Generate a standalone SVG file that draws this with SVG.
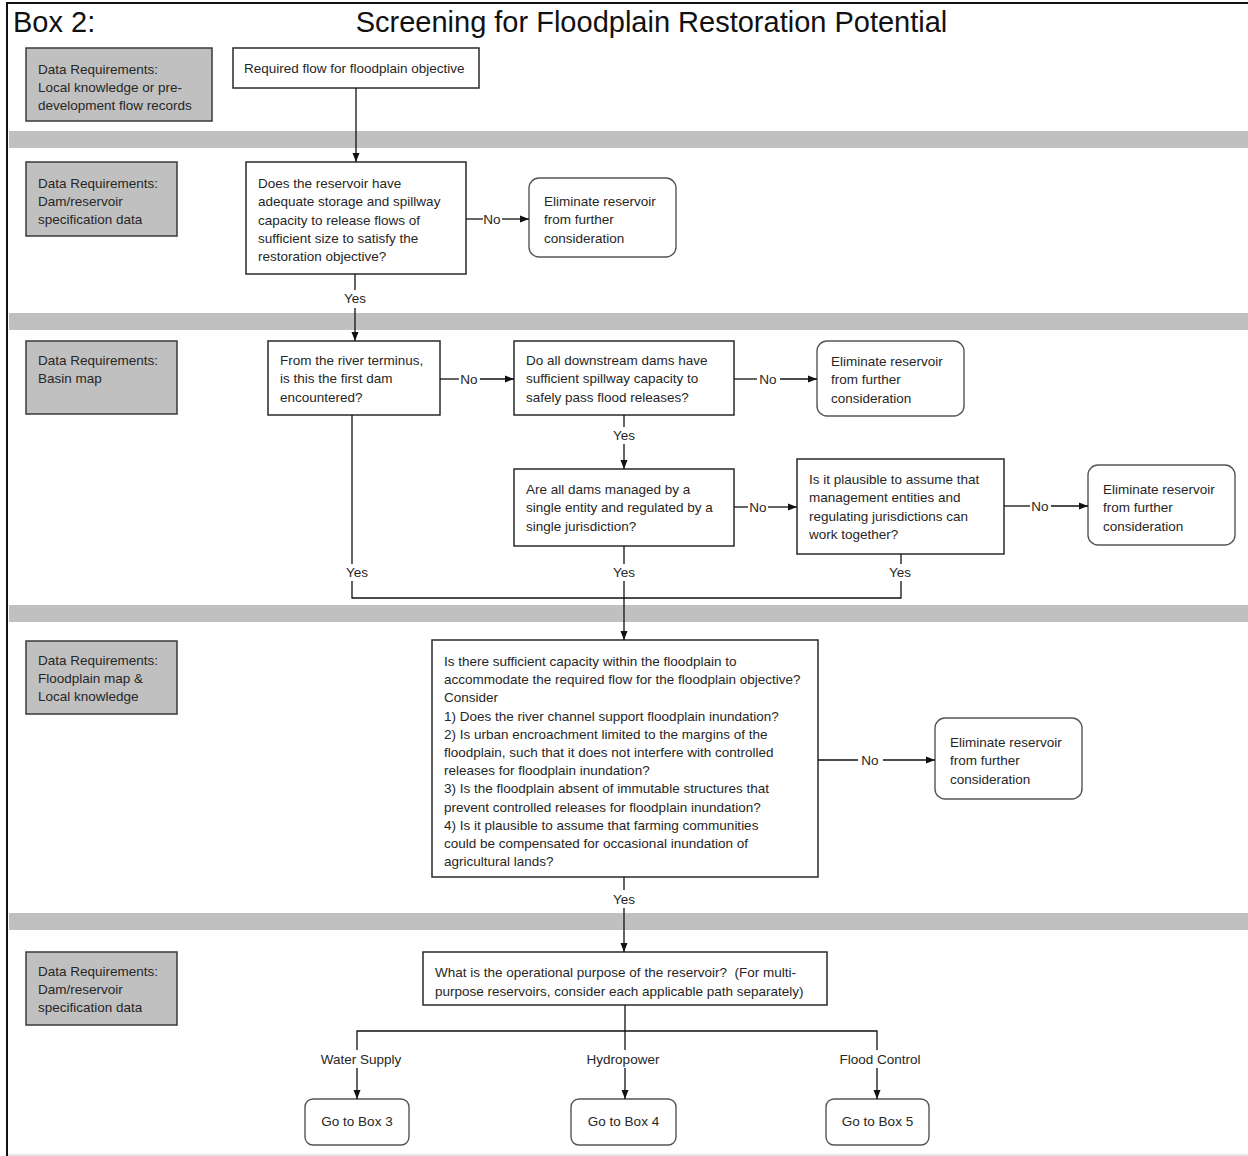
<svg xmlns="http://www.w3.org/2000/svg" width="1248" height="1156" viewBox="0 0 1248 1156">
  <defs>
    <marker id="arrow" markerUnits="userSpaceOnUse" markerWidth="10" markerHeight="8" refX="9" refY="4" orient="auto">
      <path d="M0,0.5 L9,4 L0,7.5 Z" fill="#111"/>
    </marker>
    <style>
      .band { fill: #c0c0c0; }
      .req { fill: #c0c0c0; stroke: #3a3a3a; stroke-width: 1.5; }
      .box { fill: #fff; stroke: #2a2a2a; stroke-width: 1.5; }
      .end { fill: #fff; stroke: #555; stroke-width: 1.4; }
      .t { font-family: "Liberation Sans", Arial, sans-serif; font-size: 13.5px; fill: #262626; }
      .tr { font-family: "Liberation Sans", Arial, sans-serif; font-size: 13.5px; fill: #262626; }
      .lbl { font-family: "Liberation Sans", Arial, sans-serif; font-size: 13.5px; fill: #262626; text-anchor: middle; }
      .title { font-family: "Liberation Sans", Arial, sans-serif; font-size: 29px; fill: #111; }
      .c { fill: none; stroke: #111; stroke-width: 1.3; }
      .ca { fill: none; stroke: #111; stroke-width: 1.3; marker-end: url(#arrow); }
    </style>
  </defs>

  <rect x="0" y="0" width="1248" height="1156" fill="#fff"/>

  <!-- frame -->
  <path d="M7,1156 L7,3 L1248,3" fill="none" stroke="#111" stroke-width="2"/>
  <line x1="8" y1="1155" x2="1248" y2="1155" stroke="#d0d0d0" stroke-width="1"/>

  <!-- swim-lane separators -->
  <rect class="band" x="9" y="131" width="1239" height="17"/>
  <rect class="band" x="9" y="313" width="1239" height="17"/>
  <rect class="band" x="9" y="605" width="1239" height="17"/>
  <rect class="band" x="9" y="913" width="1239" height="17"/>

  <!-- heading -->
  <text class="title" x="13" y="32">Box 2:</text>
  <text class="title" x="651.5" y="32" text-anchor="middle">Screening for Floodplain Restoration Potential</text>

  <!-- data requirement panels -->
  <g id="req1">
    <rect class="req" x="26" y="48" width="186" height="73"/>
    <text class="tr" x="38" y="74">Data Requirements:<tspan x="38" dy="18">Local knowledge or pre-</tspan><tspan x="38" dy="18">development flow records</tspan></text>
  </g>
  <g id="req2">
    <rect class="req" x="26" y="162" width="151" height="74"/>
    <text class="tr" x="38" y="188">Data Requirements:<tspan x="38" dy="18">Dam/reservoir</tspan><tspan x="38" dy="18">specification data</tspan></text>
  </g>
  <g id="req3">
    <rect class="req" x="26" y="341" width="151" height="73"/>
    <text class="tr" x="38" y="365">Data Requirements:<tspan x="38" dy="18">Basin map</tspan></text>
  </g>
  <g id="req4">
    <rect class="req" x="26" y="641" width="151" height="73"/>
    <text class="tr" x="38" y="665">Data Requirements:<tspan x="38" dy="18">Floodplain map &amp;</tspan><tspan x="38" dy="18">Local knowledge</tspan></text>
  </g>
  <g id="req5">
    <rect class="req" x="26" y="952" width="151" height="73"/>
    <text class="tr" x="38" y="976">Data Requirements:<tspan x="38" dy="18">Dam/reservoir</tspan><tspan x="38" dy="18">specification data</tspan></text>
  </g>

  <!-- flow steps -->
  <g id="required-flow">
    <rect class="box" x="233" y="48" width="246" height="40"/>
    <text class="t" x="244" y="73">Required flow for floodplain objective</text>
  </g>
  <g id="q-capacity">
    <rect class="box" x="246" y="162" width="220" height="112"/>
    <text class="t" x="258" y="188">Does the reservoir have<tspan x="258" dy="18.3">adequate storage and spillway</tspan><tspan x="258" dy="18.3">capacity to release flows of</tspan><tspan x="258" dy="18.3">sufficient size to satisfy the</tspan><tspan x="258" dy="18.3">restoration objective?</tspan></text>
  </g>
  <g id="elim-1">
    <rect class="end" x="529" y="178" width="147" height="79" rx="10"/>
    <text class="t" x="544" y="206">Eliminate reservoir<tspan x="544" dy="18.3">from further</tspan><tspan x="544" dy="18.3">consideration</tspan></text>
  </g>
  <g id="q-first-dam">
    <rect class="box" x="268" y="341" width="172" height="74"/>
    <text class="t" x="280" y="365">From the river terminus,<tspan x="280" dy="18.3">is this the first dam</tspan><tspan x="280" dy="18.3">encountered?</tspan></text>
  </g>
  <g id="q-downstream">
    <rect class="box" x="514" y="341" width="220" height="74"/>
    <text class="t" x="526" y="365">Do all downstream dams have<tspan x="526" dy="18.3">sufficient spillway capacity to</tspan><tspan x="526" dy="18.3">safely pass flood releases?</tspan></text>
  </g>
  <g id="elim-2">
    <rect class="end" x="817" y="341" width="147" height="75" rx="10"/>
    <text class="t" x="831" y="366">Eliminate reservoir<tspan x="831" dy="18.3">from further</tspan><tspan x="831" dy="18.3">consideration</tspan></text>
  </g>
  <g id="q-single-entity">
    <rect class="box" x="514" y="469" width="220" height="77"/>
    <text class="t" x="526" y="494">Are all dams managed by a<tspan x="526" dy="18.3">single entity and regulated by a</tspan><tspan x="526" dy="18.3">single jurisdiction?</tspan></text>
  </g>
  <g id="q-cooperate">
    <rect class="box" x="797" y="459" width="207" height="95"/>
    <text class="t" x="809" y="484">Is it plausible to assume that<tspan x="809" dy="18.3">management entities and</tspan><tspan x="809" dy="18.3">regulating jurisdictions can</tspan><tspan x="809" dy="18.3">work together?</tspan></text>
  </g>
  <g id="elim-3">
    <rect class="end" x="1088" y="465" width="147" height="80" rx="10"/>
    <text class="t" x="1103" y="494">Eliminate reservoir<tspan x="1103" dy="18.3">from further</tspan><tspan x="1103" dy="18.3">consideration</tspan></text>
  </g>
  <g id="q-floodplain">
    <rect class="box" x="432" y="640" width="386" height="237"/>
    <text class="t" x="444" y="666">Is there sufficient capacity within the floodplain to<tspan x="444" dy="18.2">accommodate the required flow for the floodplain objective?</tspan><tspan x="444" dy="18.2">Consider</tspan><tspan x="444" dy="18.2">1) Does the river channel support floodplain inundation?</tspan><tspan x="444" dy="18.2">2) Is urban encroachment limited to the margins of the</tspan><tspan x="444" dy="18.2">floodplain, such that it does not interfere with controlled</tspan><tspan x="444" dy="18.2">releases for floodplain inundation?</tspan><tspan x="444" dy="18.2">3) Is the floodplain absent of immutable structures that</tspan><tspan x="444" dy="18.2">prevent controlled releases for floodplain inundation?</tspan><tspan x="444" dy="18.2">4) Is it plausible to assume that farming communities</tspan><tspan x="444" dy="18.2">could be compensated for occasional inundation of</tspan><tspan x="444" dy="18.2">agricultural lands?</tspan></text>
  </g>
  <g id="elim-4">
    <rect class="end" x="935" y="718" width="147" height="81" rx="10"/>
    <text class="t" x="950" y="747">Eliminate reservoir<tspan x="950" dy="18.3">from further</tspan><tspan x="950" dy="18.3">consideration</tspan></text>
  </g>
  <g id="q-purpose">
    <rect class="box" x="423" y="952" width="404" height="53"/>
    <text class="t" x="435" y="977">What is the operational purpose of the reservoir?&#160; (For multi-<tspan x="435" dy="18.5">purpose reservoirs, consider each applicable path separately)</tspan></text>
  </g>
  <g id="box-3">
    <rect class="end" x="305" y="1099" width="104" height="46" rx="8"/>
    <text class="lbl" x="357" y="1126">Go to Box 3</text>
  </g>
  <g id="box-4">
    <rect class="end" x="571" y="1099" width="105" height="46" rx="8"/>
    <text class="lbl" x="623.5" y="1126">Go to Box 4</text>
  </g>
  <g id="box-5">
    <rect class="end" x="826" y="1099" width="103" height="46" rx="8"/>
    <text class="lbl" x="877.5" y="1126">Go to Box 5</text>
  </g>

  <!-- connectors and branch labels -->
  <g id="connectors">
    <line class="ca" x1="356" y1="88" x2="356" y2="162"/>

    <line class="c" x1="466" y1="219" x2="483" y2="219"/>
    <text class="lbl" x="492" y="224">No</text>
    <line class="ca" x1="502" y1="219" x2="529" y2="219"/>

    <line class="c" x1="355" y1="274" x2="355" y2="290"/>
    <text class="lbl" x="355" y="303">Yes</text>
    <line class="ca" x1="355" y1="308" x2="355" y2="341"/>

    <line class="c" x1="440" y1="379" x2="459" y2="379"/>
    <text class="lbl" x="469" y="384">No</text>
    <line class="ca" x1="480" y1="379" x2="514" y2="379"/>

    <line class="c" x1="734" y1="379" x2="757" y2="379"/>
    <text class="lbl" x="768" y="384">No</text>
    <line class="ca" x1="780" y1="379" x2="817" y2="379"/>

    <line class="c" x1="624" y1="415" x2="624" y2="427"/>
    <text class="lbl" x="624" y="440">Yes</text>
    <line class="ca" x1="624" y1="444" x2="624" y2="469"/>

    <line class="c" x1="734" y1="507" x2="748" y2="507"/>
    <text class="lbl" x="758" y="512">No</text>
    <line class="ca" x1="768" y1="507" x2="797" y2="507"/>

    <line class="c" x1="1004" y1="506" x2="1030" y2="506"/>
    <text class="lbl" x="1040" y="511">No</text>
    <line class="ca" x1="1051" y1="506" x2="1088" y2="506"/>

    <line class="c" x1="352" y1="415" x2="352" y2="564"/>
    <text class="lbl" x="357" y="577">Yes</text>
    <line class="c" x1="624" y1="546" x2="624" y2="564"/>
    <text class="lbl" x="624" y="577">Yes</text>
    <line class="c" x1="901" y1="554" x2="901" y2="564"/>
    <text class="lbl" x="900" y="577">Yes</text>
    <path class="c" d="M352,581 L352,598 L901,598 L901,581"/>
    <line class="ca" x1="624" y1="581" x2="624" y2="640"/>

    <line class="c" x1="818" y1="760" x2="858" y2="760"/>
    <text class="lbl" x="870" y="765">No</text>
    <line class="ca" x1="883" y1="760" x2="935" y2="760"/>

    <line class="c" x1="624" y1="877" x2="624" y2="890"/>
    <text class="lbl" x="624" y="904">Yes</text>
    <line class="ca" x1="624" y1="908" x2="624" y2="952"/>

    <line class="c" x1="625" y1="1005" x2="625" y2="1031"/>
    <path class="c" d="M357,1050 L357,1031 L877,1031 L877,1050"/>
    <line class="c" x1="625" y1="1031" x2="625" y2="1050"/>
    <text class="lbl" x="361" y="1064">Water Supply</text>
    <text class="lbl" x="623" y="1064">Hydropower</text>
    <text class="lbl" x="880" y="1064">Flood Control</text>
    <line class="ca" x1="357" y1="1068" x2="357" y2="1099"/>
    <line class="ca" x1="625" y1="1068" x2="625" y2="1099"/>
    <line class="ca" x1="877" y1="1068" x2="877" y2="1099"/>
  </g>
</svg>
